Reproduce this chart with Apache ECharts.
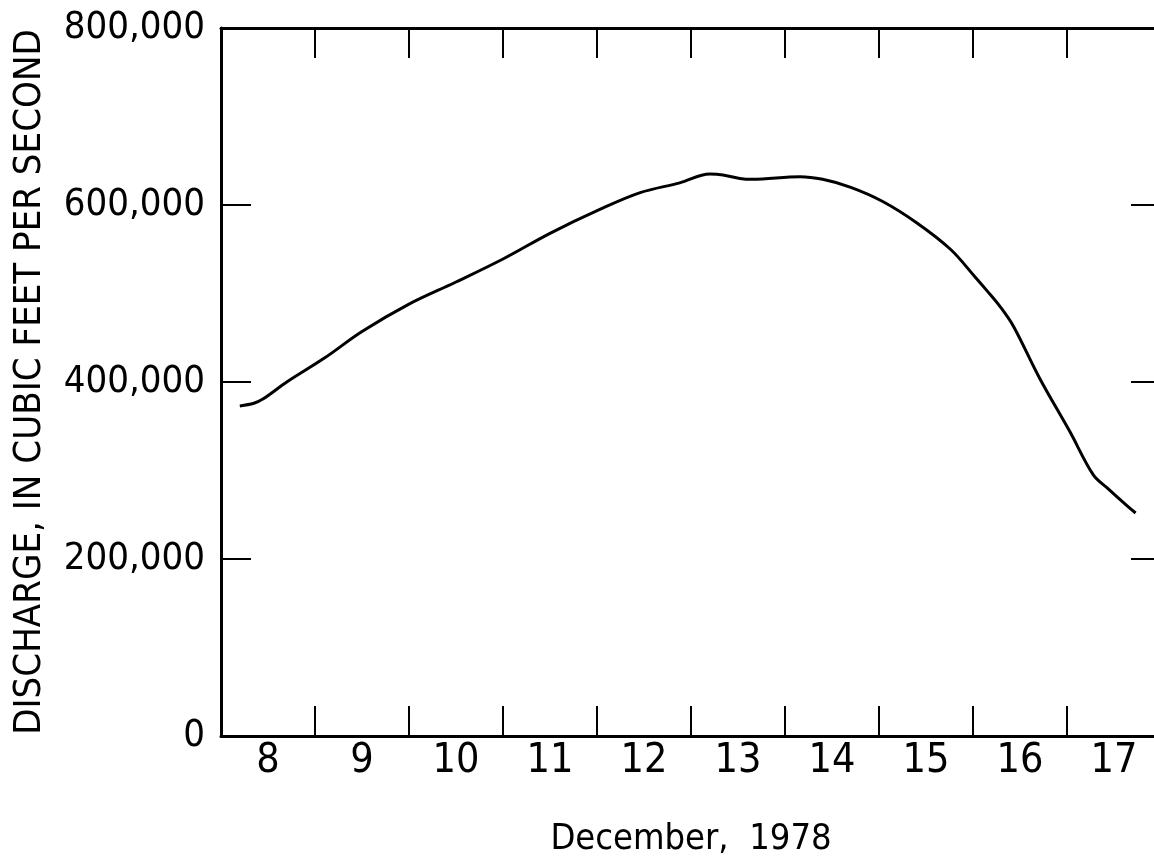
<!DOCTYPE html>
<html>
<head>
<meta charset="utf-8">
<script src="https://cdn.jsdelivr.net/npm/echarts@6/dist/echarts.min.js"></script>
<style>
  html, body { margin: 0; padding: 0; background: #fff; overflow: hidden; }
  /* the original scan cuts off the right frame, so the chart is a little wider than the window */
  #chart { width: 1162px; height: 863px; }
</style>
</head>
<body>
<div id="chart"></div>
<script>
    // day labels, each one centred on its day
    const days = ['8', '9', '10', '11', '12', '13', '14', '15', '16', '17'];
    // y axis ticks
    const yTicks = [0, 200000, 400000, 600000, 800000];
    // discharge hydrograph: day of December (fractional), cubic feet per second
    const dayTime = [8.2, 8.35, 8.45, 8.7, 9.1, 9.5, 10.0, 10.5, 11.0, 11.5, 12.03, 12.46, 12.88, 13.2, 13.34,
        13.52, 13.65, 14.16, 14.4, 14.7, 15.04, 15.4, 15.76, 16.02, 16.15, 16.29, 16.43, 16.71, 17.03, 17.28, 17.43, 17.64, 17.73];
    const discharge = [373000, 376000, 381000, 400000, 427000, 457000, 488000, 513000, 539000, 568000, 595000, 614000, 625000, 635000, 634000,
        630000, 629000, 632000, 629000, 620000, 604000, 580000, 550000, 519000, 503000, 485000, 463000, 404000, 344000, 295000, 280000, 260000, 252000];

    const font = '"DejaVu Sans Condensed", "DejaVu Sans", sans-serif';
    const lineData = [];
    for (var i = 0; i < dayTime.length; i++) {
        lineData.push([dayTime[i], discharge[i]]);
    }

    let myChart = echarts.init(document.getElementById('chart'));
    myChart.setOption({
        animation: false,
        grid: {
            left: 221,
            right: 1,
            top: 28,
            bottom: 124,
            containLabel: false
        },
        xAxis: [{
            type: 'category',
            data: days,
            position: 'bottom',
            boundaryGap: true,
            name: 'December,  1978',
            nameLocation: 'middle',
            nameGap: 86,
            nameTextStyle: {color: '#000', fontSize: 36, fontFamily: font},
            axisLine: {show: true, onZero: false, lineStyle: {color: '#000', width: 3}},
            axisTick: {show: true, interval: 0, inside: true, length: 30, lineStyle: {color: '#000', width: 2}},
            axisLabel: {color: '#000', fontSize: 41, fontFamily: font, margin: 5, interval: 0}
        }, {
            type: 'category',
            data: days,
            position: 'top',
            boundaryGap: true,
            axisLine: {show: true, onZero: false, lineStyle: {color: '#000', width: 3}},
            axisTick: {show: true, interval: 0, inside: true, length: 30, lineStyle: {color: '#000', width: 2}},
            axisLabel: {show: false}
        }, {
            type: 'value',
            min: 8,
            max: 18,
            show: false
        }],
        yAxis: [{
            type: 'value',
            position: 'left',
            min: yTicks[0],
            max: yTicks[yTicks.length - 1],
            interval: yTicks[1] - yTicks[0],
            name: 'DISCHARGE, IN CUBIC FEET PER SECOND',
            nameLocation: 'middle',
            nameRotate: 90,
            nameGap: 172,
            nameTextStyle: {color: '#000', fontSize: 38, fontFamily: font},
            splitLine: {show: false},
            axisLine: {show: true, onZero: false, lineStyle: {color: '#000', width: 3}},
            axisTick: {show: true, inside: true, length: 30, lineStyle: {color: '#000', width: 2}},
            axisLabel: {
                color: '#000', fontSize: 38, fontFamily: font, margin: 16,
                formatter: function (v) { return v.toLocaleString('en-US'); }
            }
        }, {
            type: 'value',
            position: 'right',
            min: yTicks[0],
            max: yTicks[yTicks.length - 1],
            interval: yTicks[1] - yTicks[0],
            splitLine: {show: false},
            axisLine: {show: true, onZero: false, lineStyle: {color: '#000', width: 3}},
            axisTick: {show: true, inside: true, length: 30, lineStyle: {color: '#000', width: 2}},
            axisLabel: {show: false}
        }],
        series: [{
            type: 'line',
            xAxisIndex: 2,
            yAxisIndex: 0,
            data: lineData,
            smooth: 0.35,
            showSymbol: false,
            lineStyle: {color: '#000', width: 3}
        }]
    });
</script>
</body>
</html>
